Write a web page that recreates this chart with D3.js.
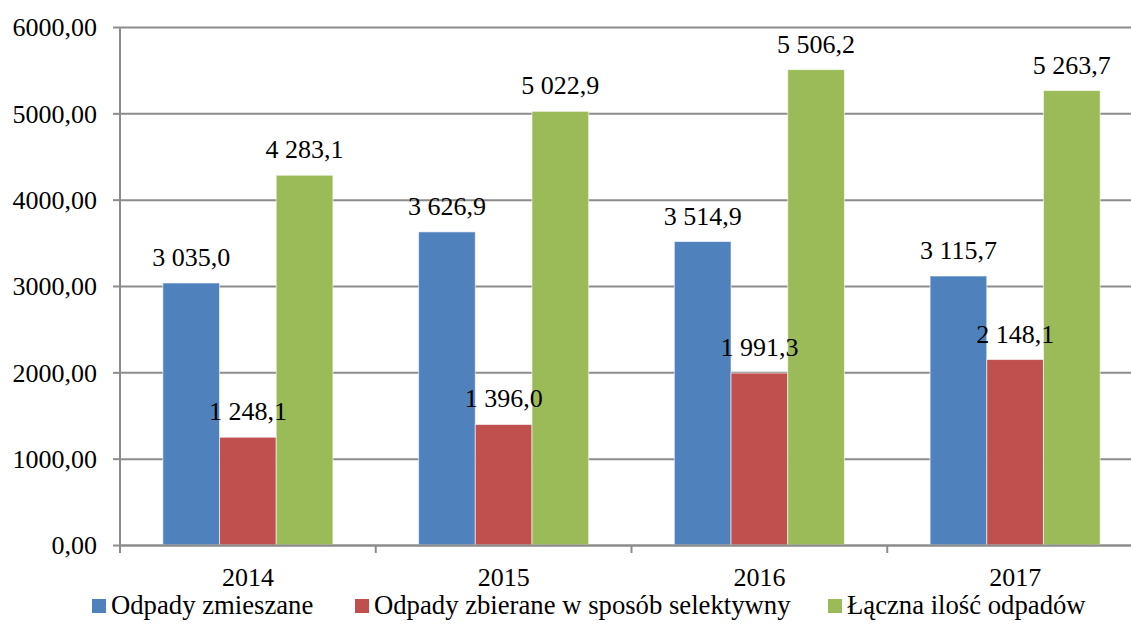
<!DOCTYPE html>
<html>
<head>
<meta charset="utf-8">
<script src="https://cdn.jsdelivr.net/npm/d3@7"></script>
<style>
  body { margin: 0; background: #fff; }
</style>
</head>
<body>
<svg id="chart" width="1131" height="644"></svg>
<script>
// dane
var years = ["2014", "2015", "2016", "2017"];
var seriesNames = ["Odpady zmieszane", "Odpady zbierane w sposób selektywny", "Łączna ilość odpadów"];
var zmieszane = [3035.0, 3626.9, 3514.9, 3115.7];
var selektywne = [1248.1, 1396.0, 1991.3, 2148.1];
var laczna = [4283.1, 5022.9, 5506.2, 5263.7];
var yTicks = [0, 1000, 2000, 3000, 4000, 5000, 6000];
var colors = ["#4F81BD", "#C0504D", "#9BBB59"];

var series = [zmieszane, selektywne, laczna];
var FONT = "Liberation Serif, Tinos, DejaVu Serif, Times New Roman, serif";
var FS = 26;

var svg = d3.select("#chart")
    .attr("font-family", FONT),
    margin = {top: 27, left: 120},
    width = 1023,
    height = 518,
    g = svg.append("g").attr("transform", "translate(" + margin.left + "," + margin.top + ")");

var pl = d3.formatLocale({decimal: ",", thousands: " ", grouping: [3], currency: ["", ""]});
var fmtLabel = pl.format(",.1f"),
    fmtTick = pl.format(".2f");

var x0 = d3.scaleBand().domain(years).range([0, width]).paddingInner(0.335).paddingOuter(0.1675);
var x1 = d3.scaleBand().domain(d3.range(series.length)).range([0, x0.bandwidth()]);
var y = d3.scaleLinear().domain([0, 6000]).range([height, 0]);

// siatka
g.append("g")
  .selectAll("line")
  .data(yTicks)
  .enter().append("line")
  .attr("x1", 0)
  .attr("x2", 1131)
  .attr("y1", function(d) { return y(d) + 0.5; })
  .attr("y2", function(d) { return y(d) + 0.5; })
  .attr("stroke", "#8c8c8c")
  .attr("stroke-width", 2);

// slupki
var groups = g.append("g")
  .selectAll("g")
  .data(series)
  .enter().append("g")
  .attr("fill", function(d, i) { return colors[i]; });

groups.selectAll("rect")
  .data(function(d, i) { return d.map(function(v, j) { return {s: i, year: years[j], v: v}; }); })
  .enter().append("rect")
  .attr("x", function(d) { return x0(d.year) + x1(d.s); })
  .attr("y", function(d) { return y(d.v); })
  .attr("width", x1.bandwidth())
  .attr("height", function(d) { return height - y(d.v); })
  .attr("stroke", "#ffffff")
  .attr("stroke-opacity", 0.6)
  .attr("stroke-width", 1);

// etykiety
var labels = g.append("g")
  .attr("font-size", FS)
  .attr("text-anchor", "middle");
series.forEach(function(s, i) {
  labels.selectAll("text.s" + i)
    .data(s)
    .enter().append("text")
    .attr("class", "s" + i)
    .attr("x", function(d, j) { return x0(years[j]) + x1(i) + x1.bandwidth() / 2; })
    .attr("y", function(d) { return y(d) - 17; })
    .text(function(d) { return fmtLabel(d); });
});

// os Y
var yAxis = g.append("g")
  .call(d3.axisLeft(y).tickValues(yTicks).tickSize(7).tickFormat(fmtTick))
  .attr("font-family", FONT)
  .attr("font-size", FS);
yAxis.select(".domain").attr("stroke", "#8c8c8c").attr("stroke-width", 2).attr("d", "M0," + height + "V0");
yAxis.selectAll(".tick line").attr("stroke", "#8c8c8c").attr("stroke-width", 2);
yAxis.selectAll(".tick text")
  .attr("x", -23)
  .attr("dy", "0.34em")
  .attr("fill", "#000");

// os X
var xAxis = g.append("g").attr("transform", "translate(0," + height + ")");
xAxis.append("line")
  .attr("x1", 0).attr("x2", 1131)
  .attr("y1", 0.5).attr("y2", 0.5)
  .attr("stroke", "#8c8c8c").attr("stroke-width", 2);
xAxis.selectAll("line.tk")
  .data(years)
  .enter().append("line")
  .attr("class", "tk")
  .attr("x1", function(d) { return x0(d) - x0.step() * x0.paddingInner() / 2; })
  .attr("x2", function(d) { return x0(d) - x0.step() * x0.paddingInner() / 2; })
  .attr("y1", 0).attr("y2", 8)
  .attr("stroke", "#8c8c8c").attr("stroke-width", 2);
xAxis.selectAll("text")
  .data(years)
  .enter().append("text")
  .attr("x", function(d) { return x0(d) + x0.bandwidth() / 2; })
  .attr("y", 41)
  .attr("text-anchor", "middle")
  .attr("font-size", FS)
  .text(function(d) { return d; });

// legenda
var legX = [92, 355, 828];
var legend = svg.append("g")
  .selectAll("g")
  .data(seriesNames)
  .enter().append("g")
  .attr("transform", function(d, i) { return "translate(" + legX[i] + ",614)"; });
legend.append("rect")
  .attr("y", -15)
  .attr("width", 14)
  .attr("height", 14)
  .attr("fill", function(d, i) { return colors[i]; });
legend.append("text")
  .attr("x", 19)
  .attr("font-size", 26.7)
  .text(function(d) { return d; });
</script>
</body>
</html>
